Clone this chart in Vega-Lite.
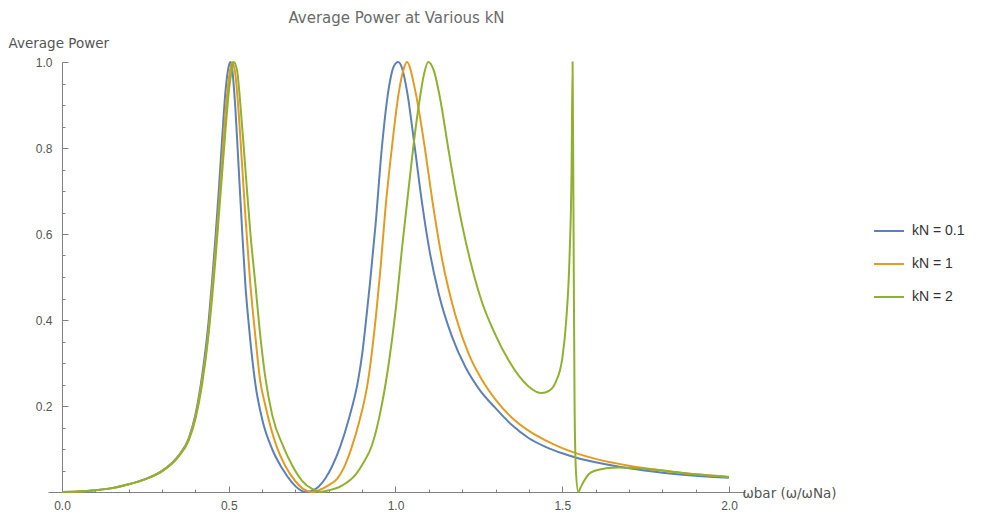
{
  "$schema": "https://vega.github.io/schema/vega-lite/v6.json",
  "autosize": {"type": "none"},
  "width": 697,
  "height": 430,
  "padding": {"left": 48, "top": 62, "right": 245, "bottom": 21},
  "background": "white",
  "title": {"text": "Average Power at Various kN", "font": "DejaVu Sans", "fontSize": 15, "fontWeight": "normal", "color": "#6a6a6a", "anchor": "middle", "offset": 10},
  "config": {"view": {"stroke": null}, "axis": {"grid": false}},
  "data": {"values": [
    {"x":0,"y":0,"k":"kN = 0.1"},{"x":0.05,"y":0.001,"k":"kN = 0.1"},{"x":0.1,"y":0.004,"k":"kN = 0.1"},{"x":0.15,"y":0.009,"k":"kN = 0.1"},{"x":0.2,"y":0.018,"k":"kN = 0.1"},{"x":0.25,"y":0.03,"k":"kN = 0.1"},{"x":0.3,"y":0.049,"k":"kN = 0.1"},{"x":0.35,"y":0.085,"k":"kN = 0.1"},{"x":0.38,"y":0.125,"k":"kN = 0.1"},
    {"x":0.4,"y":0.18,"k":"kN = 0.1"},{"x":0.42,"y":0.27,"k":"kN = 0.1"},{"x":0.44,"y":0.4,"k":"kN = 0.1"},{"x":0.45,"y":0.49,"k":"kN = 0.1"},{"x":0.46,"y":0.59,"k":"kN = 0.1"},{"x":0.47,"y":0.7,"k":"kN = 0.1"},{"x":0.48,"y":0.82,"k":"kN = 0.1"},{"x":0.49,"y":0.93,"k":"kN = 0.1"},{"x":0.5,"y":0.99,"k":"kN = 0.1"},{"x":0.505,"y":1.0,"k":"kN = 0.1"},{"x":0.51,"y":0.985,"k":"kN = 0.1"},{"x":0.52,"y":0.89,"k":"kN = 0.1"},{"x":0.53,"y":0.75,"k":"kN = 0.1"},{"x":0.54,"y":0.61,"k":"kN = 0.1"},{"x":0.55,"y":0.48,"k":"kN = 0.1"},{"x":0.56,"y":0.39,"k":"kN = 0.1"},{"x":0.58,"y":0.25,"k":"kN = 0.1"},{"x":0.6,"y":0.17,"k":"kN = 0.1"},{"x":0.63,"y":0.1,"k":"kN = 0.1"},{"x":0.66,"y":0.055,"k":"kN = 0.1"},{"x":0.69,"y":0.022,"k":"kN = 0.1"},{"x":0.71,"y":0.007,"k":"kN = 0.1"},{"x":0.73,"y":0.0,"k":"kN = 0.1"},{"x":0.75,"y":0.003,"k":"kN = 0.1"},{"x":0.77,"y":0.013,"k":"kN = 0.1"},{"x":0.79,"y":0.032,"k":"kN = 0.1"},{"x":0.81,"y":0.06,"k":"kN = 0.1"},{"x":0.834,"y":0.105,"k":"kN = 0.1"},{"x":0.86,"y":0.17,"k":"kN = 0.1"},{"x":0.888,"y":0.26,"k":"kN = 0.1"},{"x":0.9,"y":0.32,"k":"kN = 0.1"},{"x":0.914,"y":0.416,"k":"kN = 0.1"},{"x":0.924,"y":0.49,"k":"kN = 0.1"},{"x":0.94,"y":0.62,"k":"kN = 0.1"},{"x":0.959,"y":0.8,"k":"kN = 0.1"},{"x":0.98,"y":0.94,"k":"kN = 0.1"},{"x":0.995,"y":0.99,"k":"kN = 0.1"},{"x":1.008,"y":1.0,"k":"kN = 0.1"},{"x":1.02,"y":0.985,"k":"kN = 0.1"},{"x":1.035,"y":0.93,"k":"kN = 0.1"},{"x":1.058,"y":0.8,"k":"kN = 0.1"},{"x":1.08,"y":0.67,"k":"kN = 0.1"},{"x":1.1,"y":0.57,"k":"kN = 0.1"},{"x":1.13,"y":0.46,"k":"kN = 0.1"},{"x":1.17,"y":0.36,"k":"kN = 0.1"},{"x":1.21,"y":0.29,"k":"kN = 0.1"},{"x":1.25,"y":0.24,"k":"kN = 0.1"},{"x":1.3,"y":0.195,"k":"kN = 0.1"},{"x":1.35,"y":0.155,"k":"kN = 0.1"},{"x":1.4,"y":0.125,"k":"kN = 0.1"},{"x":1.45,"y":0.105,"k":"kN = 0.1"},{"x":1.5,"y":0.09,"k":"kN = 0.1"},{"x":1.55,"y":0.078,"k":"kN = 0.1"},{"x":1.6,"y":0.069,"k":"kN = 0.1"},{"x":1.7,"y":0.055,"k":"kN = 0.1"},{"x":1.8,"y":0.045,"k":"kN = 0.1"},{"x":1.9,"y":0.038,"k":"kN = 0.1"},{"x":2.0,"y":0.033,"k":"kN = 0.1"},

    {"x":0,"y":0,"k":"kN = 1"},{"x":0.05,"y":0.001,"k":"kN = 1"},{"x":0.1,"y":0.004,"k":"kN = 1"},{"x":0.15,"y":0.009,"k":"kN = 1"},{"x":0.2,"y":0.018,"k":"kN = 1"},{"x":0.25,"y":0.03,"k":"kN = 1"},{"x":0.3,"y":0.049,"k":"kN = 1"},{"x":0.35,"y":0.084,"k":"kN = 1"},{"x":0.38,"y":0.123,"k":"kN = 1"},
    {"x":0.4,"y":0.175,"k":"kN = 1"},{"x":0.42,"y":0.26,"k":"kN = 1"},{"x":0.44,"y":0.38,"k":"kN = 1"},{"x":0.45,"y":0.47,"k":"kN = 1"},{"x":0.46,"y":0.56,"k":"kN = 1"},{"x":0.47,"y":0.66,"k":"kN = 1"},{"x":0.48,"y":0.77,"k":"kN = 1"},{"x":0.49,"y":0.88,"k":"kN = 1"},{"x":0.5,"y":0.96,"k":"kN = 1"},{"x":0.51,"y":1.0,"k":"kN = 1"},{"x":0.52,"y":0.97,"k":"kN = 1"},{"x":0.53,"y":0.88,"k":"kN = 1"},{"x":0.54,"y":0.76,"k":"kN = 1"},{"x":0.55,"y":0.64,"k":"kN = 1"},{"x":0.564,"y":0.49,"k":"kN = 1"},{"x":0.58,"y":0.36,"k":"kN = 1"},{"x":0.594,"y":0.26,"k":"kN = 1"},{"x":0.61,"y":0.2,"k":"kN = 1"},{"x":0.644,"y":0.105,"k":"kN = 1"},{"x":0.67,"y":0.06,"k":"kN = 1"},{"x":0.7,"y":0.025,"k":"kN = 1"},{"x":0.72,"y":0.009,"k":"kN = 1"},{"x":0.74,"y":0.001,"k":"kN = 1"},{"x":0.75,"y":0.0,"k":"kN = 1"},{"x":0.77,"y":0.004,"k":"kN = 1"},{"x":0.8,"y":0.016,"k":"kN = 1"},{"x":0.824,"y":0.03,"k":"kN = 1"},{"x":0.85,"y":0.065,"k":"kN = 1"},{"x":0.869,"y":0.105,"k":"kN = 1"},{"x":0.89,"y":0.16,"k":"kN = 1"},{"x":0.918,"y":0.26,"k":"kN = 1"},{"x":0.93,"y":0.33,"k":"kN = 1"},{"x":0.944,"y":0.43,"k":"kN = 1"},{"x":0.955,"y":0.52,"k":"kN = 1"},{"x":0.97,"y":0.66,"k":"kN = 1"},{"x":0.989,"y":0.8,"k":"kN = 1"},{"x":1.01,"y":0.93,"k":"kN = 1"},{"x":1.025,"y":0.985,"k":"kN = 1"},{"x":1.034,"y":1.0,"k":"kN = 1"},{"x":1.06,"y":0.93,"k":"kN = 1"},{"x":1.088,"y":0.8,"k":"kN = 1"},{"x":1.11,"y":0.68,"k":"kN = 1"},{"x":1.14,"y":0.54,"k":"kN = 1"},{"x":1.18,"y":0.41,"k":"kN = 1"},{"x":1.22,"y":0.32,"k":"kN = 1"},{"x":1.26,"y":0.26,"k":"kN = 1"},{"x":1.3,"y":0.215,"k":"kN = 1"},{"x":1.35,"y":0.172,"k":"kN = 1"},{"x":1.4,"y":0.142,"k":"kN = 1"},{"x":1.45,"y":0.12,"k":"kN = 1"},{"x":1.5,"y":0.102,"k":"kN = 1"},{"x":1.55,"y":0.088,"k":"kN = 1"},{"x":1.6,"y":0.077,"k":"kN = 1"},{"x":1.7,"y":0.061,"k":"kN = 1"},{"x":1.8,"y":0.05,"k":"kN = 1"},{"x":1.9,"y":0.041,"k":"kN = 1"},{"x":2.0,"y":0.035,"k":"kN = 1"},

    {"x":0,"y":0,"k":"kN = 2"},{"x":0.05,"y":0.001,"k":"kN = 2"},{"x":0.1,"y":0.004,"k":"kN = 2"},{"x":0.15,"y":0.009,"k":"kN = 2"},{"x":0.2,"y":0.018,"k":"kN = 2"},{"x":0.25,"y":0.03,"k":"kN = 2"},{"x":0.3,"y":0.048,"k":"kN = 2"},{"x":0.35,"y":0.083,"k":"kN = 2"},{"x":0.38,"y":0.12,"k":"kN = 2"},
    {"x":0.4,"y":0.17,"k":"kN = 2"},{"x":0.42,"y":0.25,"k":"kN = 2"},{"x":0.44,"y":0.37,"k":"kN = 2"},{"x":0.45,"y":0.45,"k":"kN = 2"},{"x":0.46,"y":0.54,"k":"kN = 2"},{"x":0.47,"y":0.64,"k":"kN = 2"},{"x":0.48,"y":0.74,"k":"kN = 2"},{"x":0.49,"y":0.84,"k":"kN = 2"},{"x":0.5,"y":0.93,"k":"kN = 2"},{"x":0.51,"y":0.985,"k":"kN = 2"},{"x":0.515,"y":1.0,"k":"kN = 2"},{"x":0.525,"y":0.98,"k":"kN = 2"},{"x":0.535,"y":0.9,"k":"kN = 2"},{"x":0.55,"y":0.75,"k":"kN = 2"},{"x":0.565,"y":0.6,"k":"kN = 2"},{"x":0.579,"y":0.49,"k":"kN = 2"},{"x":0.595,"y":0.36,"k":"kN = 2"},{"x":0.609,"y":0.27,"k":"kN = 2"},{"x":0.63,"y":0.18,"k":"kN = 2"},{"x":0.664,"y":0.105,"k":"kN = 2"},{"x":0.69,"y":0.062,"k":"kN = 2"},{"x":0.72,"y":0.026,"k":"kN = 2"},{"x":0.75,"y":0.007,"k":"kN = 2"},{"x":0.775,"y":0.0,"k":"kN = 2"},{"x":0.8,"y":0.004,"k":"kN = 2"},{"x":0.83,"y":0.011,"k":"kN = 2"},{"x":0.854,"y":0.022,"k":"kN = 2"},{"x":0.88,"y":0.04,"k":"kN = 2"},{"x":0.903,"y":0.067,"k":"kN = 2"},{"x":0.93,"y":0.11,"k":"kN = 2"},{"x":0.953,"y":0.18,"k":"kN = 2"},{"x":0.98,"y":0.3,"k":"kN = 2"},{"x":1.0,"y":0.42,"k":"kN = 2"},{"x":1.02,"y":0.57,"k":"kN = 2"},{"x":1.04,"y":0.71,"k":"kN = 2"},{"x":1.053,"y":0.8,"k":"kN = 2"},{"x":1.07,"y":0.9,"k":"kN = 2"},{"x":1.085,"y":0.97,"k":"kN = 2"},{"x":1.098,"y":1.0,"k":"kN = 2"},{"x":1.115,"y":0.98,"k":"kN = 2"},{"x":1.135,"y":0.91,"k":"kN = 2"},{"x":1.158,"y":0.8,"k":"kN = 2"},{"x":1.18,"y":0.7,"k":"kN = 2"},{"x":1.2,"y":0.62,"k":"kN = 2"},{"x":1.23,"y":0.52,"k":"kN = 2"},{"x":1.26,"y":0.44,"k":"kN = 2"},{"x":1.3,"y":0.365,"k":"kN = 2"},{"x":1.34,"y":0.305,"k":"kN = 2"},{"x":1.37,"y":0.27,"k":"kN = 2"},{"x":1.4,"y":0.245,"k":"kN = 2"},{"x":1.438,"y":0.23,"k":"kN = 2"},{"x":1.46,"y":0.235,"k":"kN = 2"},{"x":1.48,"y":0.255,"k":"kN = 2"},{"x":1.5,"y":0.31,"k":"kN = 2"},{"x":1.512,"y":0.4,"k":"kN = 2"},{"x":1.522,"y":0.55,"k":"kN = 2"},{"x":1.528,"y":0.75,"k":"kN = 2"},{"x":1.531,"y":1.0,"k":"kN = 2"},{"x":1.534,"y":0.6,"k":"kN = 2"},{"x":1.537,"y":0.2,"k":"kN = 2"},{"x":1.541,"y":0.05,"k":"kN = 2"},{"x":1.548,"y":0.0,"k":"kN = 2"},{"x":1.556,"y":0.012,"k":"kN = 2"},{"x":1.567,"y":0.028,"k":"kN = 2"},{"x":1.58,"y":0.042,"k":"kN = 2"},{"x":1.6,"y":0.05,"k":"kN = 2"},{"x":1.63,"y":0.055,"k":"kN = 2"},{"x":1.67,"y":0.057,"k":"kN = 2"},{"x":1.72,"y":0.056,"k":"kN = 2"},{"x":1.8,"y":0.05,"k":"kN = 2"},{"x":1.9,"y":0.041,"k":"kN = 2"},{"x":2.0,"y":0.035,"k":"kN = 2"}
  ]},
  "mark": {"type": "line", "strokeWidth": 2, "interpolate": "monotone", "clip": false},
  "encoding": {
    "x": {"field": "x", "type": "quantitative",
      "scale": {"domain": [-0.042, 2.048], "nice": false, "zero": false},
      "axis": {
        "values": [0,0.1,0.2,0.3,0.4,0.5,0.6,0.7,0.8,0.9,1.0,1.1,1.2,1.3,1.4,1.5,1.6,1.7,1.8,1.9,2.0],
        "labelExpr": "abs(datum.value*2 - round(datum.value*2)) < 0.001 ? format(datum.value, '.1f') : ''",
        "tickSize": {"condition": {"test": "abs(datum.value*2 - round(datum.value*2)) < 0.001", "value": -6}, "value": -3},
        "labelPadding": 14,
        "labelFont": "Liberation Sans", "labelFontSize": 12, "labelColor": "#555555",
        "labelFlush": false, "labelOverlap": false,
        "domainColor": "#808080", "tickColor": "#808080",
        "title": "ωbar (ω/ωNa)", "titleFont": "DejaVu Sans", "titleFontSize": 13.5, "titleFontWeight": "normal", "titleColor": "#555555",
        "titleAngle": 0, "titleAlign": "left", "titleBaseline": "middle", "titleAnchor": null, "titleX": 694, "titleY": 1
      }},
    "y": {"field": "y", "type": "quantitative",
      "scale": {"domain": [0, 1], "nice": false},
      "axis": {
        "offset": -14,
        "values": [0.05,0.1,0.15,0.2,0.25,0.3,0.35,0.4,0.45,0.5,0.55,0.6,0.65,0.7,0.75,0.8,0.85,0.9,0.95,1.0],
        "labelExpr": "abs(datum.value*5 - round(datum.value*5)) < 0.001 ? format(datum.value, '.1f') : ''",
        "tickSize": {"condition": {"test": "abs(datum.value*5 - round(datum.value*5)) < 0.001", "value": -6}, "value": -3},
        "labelPadding": 16,
        "labelFont": "Liberation Sans", "labelFontSize": 12, "labelColor": "#555555",
        "labelFlush": false, "labelOverlap": false,
        "domainColor": "#808080", "tickColor": "#808080",
        "title": "Average Power", "titleFont": "DejaVu Sans", "titleFontSize": 13.5, "titleFontWeight": "normal", "titleColor": "#555555",
        "titleAngle": 0, "titleAlign": "left", "titleBaseline": "alphabetic", "titleAnchor": null, "titleX": -54, "titleY": -15
      }},
    "color": {"field": "k", "type": "nominal",
      "scale": {"domain": ["kN = 0.1", "kN = 1", "kN = 2"], "range": ["#5E81B5", "#E19C24", "#8FB131"]},
      "legend": {"orient": "none", "legendX": 825, "legendY": 153, "title": null,
        "symbolType": "stroke", "symbolSize": 900, "symbolStrokeWidth": 2,
        "labelFont": "Liberation Sans", "labelFontSize": 14, "labelColor": "#333333",
        "labelOffset": 7, "rowPadding": 10}}
  }
}
